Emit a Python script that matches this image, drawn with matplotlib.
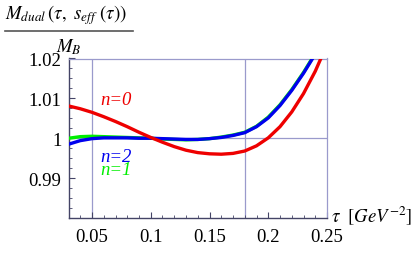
import matplotlib
matplotlib.use("Agg")
import matplotlib.pyplot as plt
from matplotlib.lines import Line2D
from matplotlib.ticker import MultipleLocator

plt.rcParams["font.family"] = "Liberation Serif"
plt.rcParams["mathtext.fontset"] = "stix"

tau = [0.03, 0.04, 0.05, 0.06, 0.07, 0.08, 0.09, 0.10, 0.11, 0.12, 0.13, 0.14,
       0.15, 0.16, 0.17, 0.18, 0.19, 0.20, 0.21, 0.22, 0.23, 0.24, 0.25]
m_n0 = [1.0081, 1.0074, 1.0065, 1.0054, 1.0042, 1.0029, 1.0015, 1.0002, 0.9990,
        0.9979, 0.9970, 0.9964, 0.9961, 0.9960, 0.9962, 0.9968, 0.9981, 1.0001,
        1.0029, 1.0066, 1.0112, 1.0168, 1.0235]
m_n1 = [1.0000, 1.0004, 1.0005, 1.0004, 1.0003, 1.0002, 1.0001, 1.0000, 0.9998,
        0.9997, 0.9996, 0.9997, 0.9999, 1.0003, 1.0008, 1.0015, 1.0030, 1.0053,
        1.0084, 1.0122, 1.0165, 1.0213, 1.0270]
m_n2 = [0.9985, 0.9994, 0.9999, 1.0001, 1.0001, 1.0001, 1.0000, 1.0000, 0.9999,
        0.9998, 0.9997, 0.9997, 0.9999, 1.0002, 1.0007, 1.0014, 1.0029, 1.0051,
        1.0082, 1.0120, 1.0163, 1.0211, 1.0268]
vlines = [0.05, 0.18]

frame = "#9a9acc"
dark = "#444466"
fs = 13.5

fig = plt.figure(figsize=(4.13, 2.55), dpi=100)
ax = fig.add_axes([68.5/413, 1 - 219/255, (327 - 68.5)/413, (219 - 59.5)/255])

for v in vlines:
    ax.axvline(v, color=frame, lw=0.9, zorder=1)
ax.axhline(1.0, color=frame, lw=0.9, zorder=1)

ax.plot(tau, m_n1, color="#00ee00", lw=2.4, zorder=3)
ax.plot(tau, m_n2, color="#0000ee", lw=2.4, zorder=4)
ax.plot(tau, m_n0, color="#ee0000", lw=2.4, zorder=5)

ax.set_xlim(0.03, 0.25)
ax.set_ylim(0.98, 1.02)
ax.set_xticks([0.05, 0.1, 0.15, 0.2, 0.25])
ax.set_xticklabels(["0.05", "0.1", "0.15", "0.2", "0.25"])
ax.set_yticks([0.99, 1.0, 1.01, 1.02])
ax.set_yticklabels(["0.99", "1", "1.01", "1.02"])
ax.xaxis.set_minor_locator(MultipleLocator(0.01))
ax.yaxis.set_minor_locator(MultipleLocator(0.0025))
ax.tick_params(which="both", direction="in", color=dark, labelsize=fs)
ax.tick_params(axis="x", pad=7)
ax.tick_params(axis="y", pad=5)
ax.tick_params(which="major", length=4, width=0.8)
ax.tick_params(which="minor", length=2, width=0.6)

for s in ["top", "right"]:
    ax.spines[s].set_color(frame)
    ax.spines[s].set_linewidth(0.9)
for s in ["left", "bottom"]:
    ax.spines[s].set_color(dark)
    ax.spines[s].set_linewidth(1.0)

ax.text(0.057, 1.0086, "n=0", color="#ee0000", fontsize=fs, style="italic")
ax.text(0.057, 0.9943, "n=2", color="#0000ee", fontsize=fs, style="italic")
ax.text(0.057, 0.9910, "n=1", color="#00ee00", fontsize=fs, style="italic")

# y-label as a fraction
fig.text(5/413, 1 - 15/255, "$M_{dual}\\,(\\tau,\\ s_{eff}\\ (\\tau))$",
         fontsize=fs, va="center", ha="left")
fig.add_artist(Line2D([5/413, 133/413], [1 - 32/255, 1 - 32/255],
                      color="#555555", lw=1.2, transform=fig.transFigure))
fig.text(69/413, 1 - 47/255, "$M_B$", fontsize=fs, va="center", ha="center")

fig.text(331/413, 1 - 216/255, "$\\tau\\ \\ [GeV^{-2}]$",
         fontsize=fs, va="center", ha="left")

fig.savefig("out.png", dpi=100)
